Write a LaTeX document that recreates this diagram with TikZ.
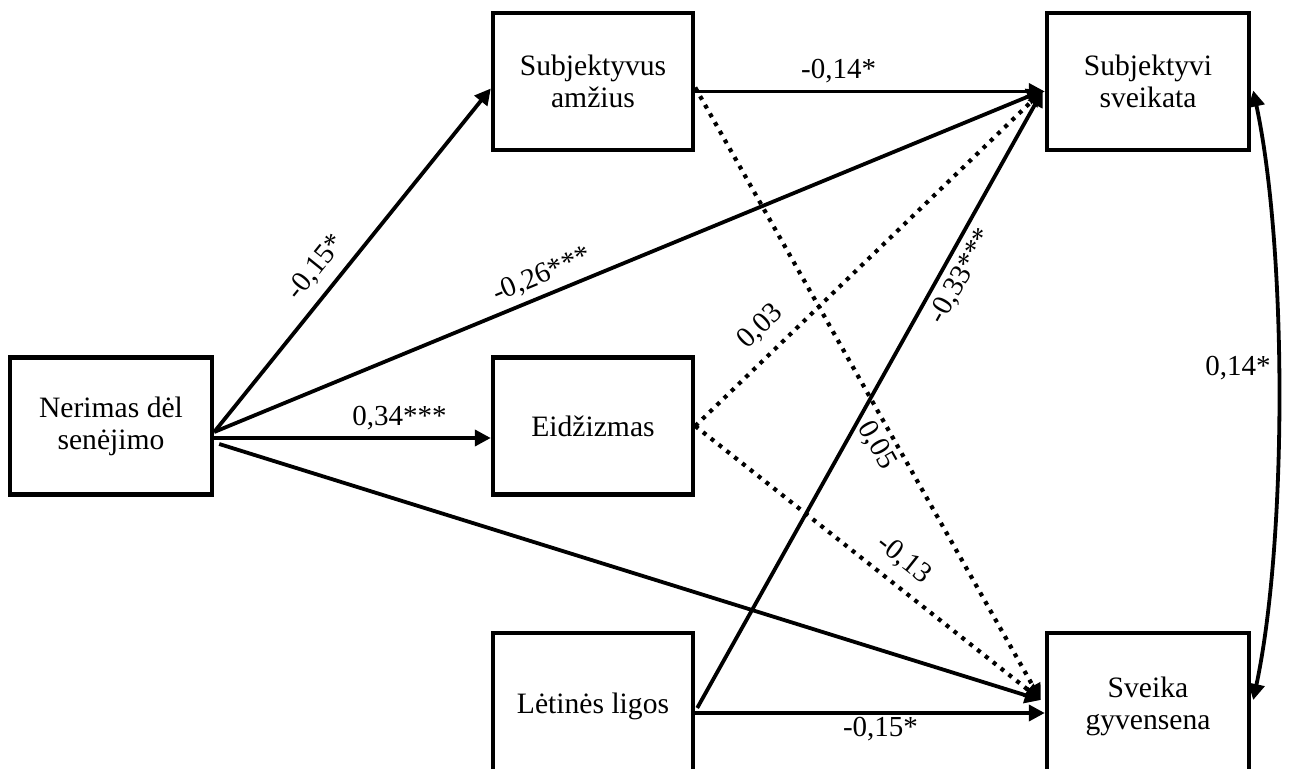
\documentclass[tikz,border=0pt]{standalone}
\usepackage{fontspec}
\setmainfont{Liberation Serif}
\usetikzlibrary{arrows.meta,calc}
\begin{document}
\begin{tikzpicture}[x=0.5pt,y=-0.5pt,
  box/.style={draw,line width=2.2pt,minimum width=100pt,minimum height=68.5pt,inner sep=0pt,align=center,font=\fontsize{14.8}{16}\selectfont},
  tip/.style={},
  arr/.style={line width=1.9pt,-{Triangle[length=8pt,width=8pt]}},
  dotarr/.style={arr,line width=2.1pt,dash pattern=on 2pt off 3pt},
  lab/.style={font=\fontsize{14.5}{16}\selectfont,inner sep=3pt}]
\useasboundingbox (0,0) rectangle (1295,769);
\node[box,minimum width=101pt] (ner) at (111,426) {Nerimas dėl\\senėjimo};
\node[box] (am) at (593,81.5) {Subjektyvus\\amžius};
\node[box] (eid) at (593,426) {Eidžizmas};
\node[box,minimum height=73pt] (lig) at (593,706) {Lėtinės ligos};
\node[box,minimum width=101pt] (sv) at (1148,81.5) {Subjektyvi\\sveikata};
\node[box,minimum width=101pt,minimum height=73pt] (gy) at (1148,706) {Sveika\\gyvensena};
% arrows from Nerimas
\draw[arr] ($(ner.east)+(0,6)$) -- node[lab,above,sloped,pos=0.436,inner sep=5pt] (l1) {-0,15*} ($(am.west)+(0,7)$);
\draw[arr] ($(ner.east)+(0,6)$) -- node[lab,above,sloped,pos=0.405] (l2) {-0,26***} ($(sv.west)+(-2,9)$);
\draw[arr] ($(ner.east)+(0,12)$) -- node[lab,above,pos=0.67] (l3) {0,34***} ($(eid.west)+(0,12)$);
\draw[arr] ($(ner.east)+(5,18)$) -- ($(gy.west)+(-4,-6)$);
% from Subjektyvus amžius
\draw[arr] ($(am.east)+(0,10)$) -- node[lab,above,pos=0.41,inner sep=3.5pt] (l4) {-0,14*} ($(sv.west)+(0,10)$);
\draw[dotarr] ($(am.east)+(0,6)$) -- node[lab,below,sloped,pos=0.57,inner sep=2pt] (l5) {0,05} ($(gy.west)+(-4,-6)$);
% from Eidžizmas
\draw[dotarr] (eid.east) -- node[lab,above,sloped,pos=0.24,inner sep=6pt] (l6) {0,03} ($(sv.west)+(-2,9)$);
\draw[dotarr] (eid.east) -- node[lab,above,sloped,pos=0.56,inner sep=5.5pt] (l7) {-0,13} ($(gy.west)+(-4,-6)$);
% from Lėtinės ligos
\draw[arr] ($(lig.east)+(2,2)$) -- node[lab,below,sloped,pos=0.715] (l8) {-0,33***} ($(sv.west)+(-2,9)$);
\draw[arr] ($(lig.east)+(0,7)$) -- node[lab,below,pos=0.53,inner sep=1pt] (l9) {-0,15*} ($(gy.west)+(0,7)$);
% correlation
\draw[line width=1.9pt,{Triangle[length=8pt,width=8pt]}-{Triangle[length=8pt,width=8pt]}]
  ($(sv.east)+(2,9)$) .. controls ($(sv.east)+(36,168)$) and ($(gy.east)+(36,-166)$) .. node[lab,left,pos=0.46,inner sep=3pt] (l10) {0,14*} ($(gy.east)+(2,-6)$);
\end{tikzpicture}
\end{document}
